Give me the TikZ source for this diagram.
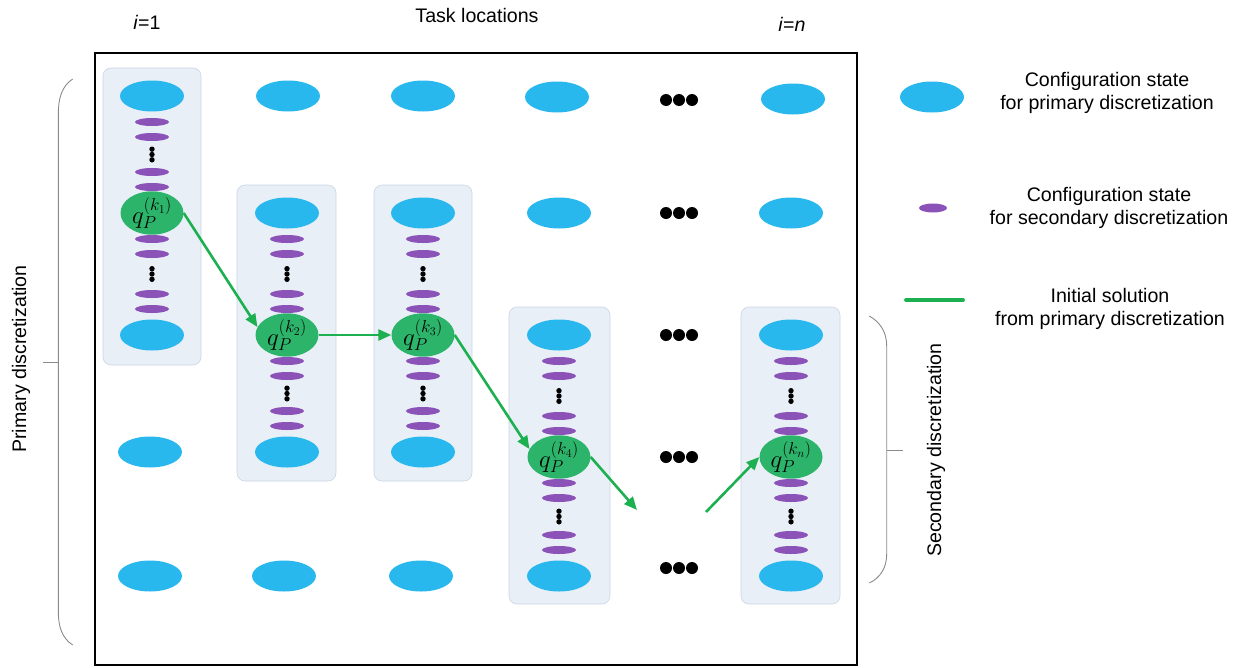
\documentclass[tikz,border=0pt]{standalone}
\usepackage{fontspec}
\setmainfont{Liberation Sans}
\usetikzlibrary{shapes.geometric,arrows.meta}
\definecolor{cblue}{HTML}{29B8EE}
\definecolor{cpurple}{HTML}{8B52B8}
\definecolor{cgreen}{HTML}{2DB46B}
\definecolor{carrow}{HTML}{1DB050}
\definecolor{boxfill}{HTML}{E9EFF7}
\definecolor{boxdraw}{HTML}{C9D5E5}
\definecolor{bracegray}{HTML}{8A8A8A}
\begin{document}
\begin{tikzpicture}[x=1pt,y=-1pt,
 big/.style={ellipse,fill=cblue,minimum width=64pt,minimum height=31pt,inner sep=0pt},
 small/.style={ellipse,fill=cpurple,minimum width=34pt,minimum height=8pt,inner sep=0pt},
 qnode/.style={ellipse,fill=cgreen,minimum width=63pt,minimum height=31pt,inner sep=0pt,font=\fontsize{23}{23}\selectfont},
 colbox/.style={draw=boxdraw,fill=boxfill,rounded corners=8pt,line width=0.6pt},
 vdot/.style={circle,fill=black,minimum size=5.4pt,inner sep=0pt},
 hdot/.style={circle,fill=black,minimum size=12pt,inner sep=0pt},
 arr/.style={draw=carrow,line width=2.6pt,-{Triangle[length=13pt,width=11pt]}},
 brace/.style={draw=bracegray,line width=0.9pt},
 txt/.style={font=\fontsize{19.6}{23.3}\selectfont,align=center,inner sep=0pt}
]
\useasboundingbox (0,0) rectangle (1241,667);

% column boxes
\draw[colbox] (103,68) rectangle (201,365);
\draw[colbox] (237,185) rectangle (336,481);
\draw[colbox] (374,185) rectangle (472,481);
\draw[colbox] (509,307) rectangle (610,604);
\draw[colbox] (741,307) rectangle (840,604);

% frame
\draw[line width=2.8pt] (95,53) rectangle (857,665);

% primary configuration states
\foreach \nm/\cx/\cy in {a1/152/96, a3/152/335, a4/150/452, a5/150/576,
  b1/288/96, b2/287/213, b4/287/452, b5/284/576,
  c1/423/96, c2/423/213, c4/423/452, c5/421/576,
  d1/557/97, d2/559/213, d3/559/335, d5/559/576,
  n1/793/99, n2/791/213, n3/791/335, n5/791/576}
  {\node[big] (\nm) at (\cx,\cy) {};}

% secondary configuration states
\foreach \nm/\cx/\ya/\yb in {sa1/152/96/213, sa2/152/213/335,
  sb1/287/213/335, sb2/287/335/452,
  sc1/423/213/335, sc2/423/335/452,
  sd1/559/335/457, sd2/559/457/576,
  sn1/791/335/457, sn2/791/457/576}
{
  \node[small] (\nm-1) at (\cx,\ya+26) {};
  \node[small] (\nm-2) at (\cx,\ya+41) {};
  \node[vdot] (\nm-d1) at (\cx,{(\ya+\yb)/2-5.3}) {};
  \node[vdot] (\nm-d2) at (\cx,{(\ya+\yb)/2}) {};
  \node[vdot] (\nm-d3) at (\cx,{(\ya+\yb)/2+5.3}) {};
  \node[small] (\nm-3) at (\cx,\yb-41) {};
  \node[small] (\nm-4) at (\cx,\yb-26) {};
}

% green solution states
\node[qnode] (g1) at (152,213) {$q_{P}^{(k_1)}$};
\node[qnode] (g2) at (287,335) {$q_{P}^{(k_2)}$};
\node[qnode] (g3) at (423,335) {$q_{P}^{(k_3)}$};
\node[qnode] (g4) at (559,457) {$q_{P}^{(k_4)}$};
\node[qnode] (gn) at (791,457) {$q_{P}^{(k_n)}$};

% horizontal dots
\foreach \nm/\cy in {h1/100, h2/213, h3/335, h4/457, h5/568}
{
  \node[hdot] (\nm-1) at (666,\cy) {};
  \node[hdot] (\nm-2) at (679,\cy) {};
  \node[hdot] (\nm-3) at (692,\cy) {};
}

% arrows
\coordinate (e1) at (637,510);
\coordinate (e2) at (706,512);
\draw[arr] (g1.east) -- (g2.165);
\draw[arr] (g2.east) -- (g3.west);
\draw[arr] (g3.east) -- (g4.165);
\draw[arr] (g4.east) -- (e1);
\draw[arr] (e2) -- (gn.west);

% top labels
\node[txt] (i1) at (147,22) {\textit{i}=1};
\node[txt] (tl) at (477,15) {Task locations};
\node[txt] (in) at (792,24) {\textit{i}=\textit{n}};

% braces
\coordinate (lbt) at (72.7,79);
\coordinate (lbb) at (72.7,645);
\coordinate (lbm) at (58.3,362);
\coordinate (lbk) at (43,362);
\draw[brace] (lbt) .. controls (62,86) and (58.3,98) .. (58.3,114) -- (58.3,611) .. controls (58.3,627) and (62,638) .. (lbb);
\draw[brace] (lbk) -- (lbm);
\node[txt,rotate=90] (pd) at (21,359) {Primary discretization};

\coordinate (rbt) at (869.3,316);
\coordinate (rbb) at (869.3,583);
\coordinate (rbm) at (886.7,450);
\coordinate (rbk) at (903,450);
\draw[brace] (rbt) .. controls (880,322) and (886.7,332) .. (886.7,346) -- (886.7,554) .. controls (886.7,568) and (880,578) .. (rbb);
\draw[brace] (rbm) -- (rbk);
\node[txt,rotate=90] (sd) at (936,450) {Secondary discretization};

% legend
\node[big] (lb) at (932,97) {};
\node[txt] (lt1) at (1107,93) {Configuration state\\for primary discretization};
\node[ellipse,fill=cpurple,minimum width=28pt,minimum height=9pt,inner sep=0pt] (ls) at (933,208) {};
\node[txt] (lt2) at (1109,208) {Configuration state\\for secondary discretization};
\coordinate (lg1) at (906,300);
\coordinate (lg2) at (963,300);
\draw[draw=carrow,line width=3.8pt,line cap=round] (lg1) -- (lg2);
\node[txt] (lt3) at (1110,309) {Initial solution\\from primary discretization};
\end{tikzpicture}
\end{document}
